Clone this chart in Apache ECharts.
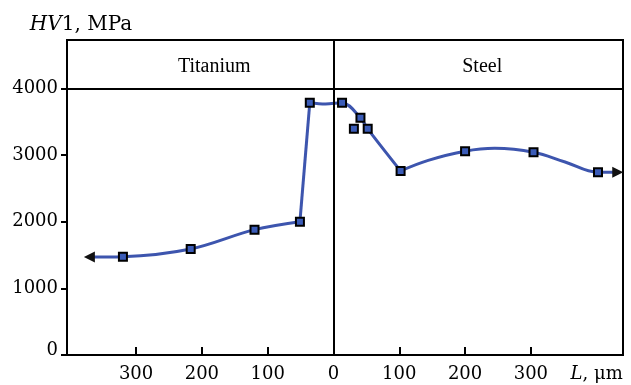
<!DOCTYPE html>
<html>
<head>
<meta charset="utf-8">
<script src="https://cdn.jsdelivr.net/npm/echarts@6/dist/echarts.min.js"></script>
<style>
html,body{margin:0;padding:0;background:#fff;}
#c{width:631px;height:385px;}
</style>
</head>
<body>
<div id="c"></div>
<script>
// ---- data ----
const xTickValues = [-300, -200, -100, 100, 200, 300];
const xLabelValues = [-300, -200, -100, 0, 100, 200, 300];
const yTickValues = [0, 1000, 2000, 3000, 4000];
const zones = ['Titanium', 'Steel'];

// measured points (L, µm: negative = titanium side, positive = steel side)
const pointL  = [-320, -217, -120, -51, -36, 13, 31, 41, 52, 102, 200, 304, 402];
const pointHV = [1475, 1590, 1880, 2000, 3785, 3785, 3392, 3557, 3392, 2761, 3057, 3042, 2742];

// fitted curve (pieces), ends carry the arrows
const curveTiL     = [-371, -320, -217, -120, -51];
const curveTiHV    = [1470, 1475, 1590, 1880, 2000];
const curveJumpL   = [-51, -36];
const curveJumpHV  = [2000, 3785];
const curveTopL    = [-36, -12, 13, 41, 52, 102];
const curveTopHV   = [3785, 3765, 3785, 3557, 3392, 2761];
const curveSteelL  = [102, 144, 200, 245, 304, 352, 402, 432];
const curveSteelHV = [2761, 2920, 3057, 3100, 3042, 2895, 2742, 2742];

const BLUE = '#3d55ae';
const zip = (xs, ys) => xs.map((x, i) => [x, ys[i]]);

const seriesLine = (data, smooth) => ({
  type: 'line',
  data: data,
  smooth: smooth,
  showAllSymbol: true,
  symbol: 'none',
  lineStyle: { color: BLUE, width: 3 },
  itemStyle: { color: '#111' },
  z: 3,
  silent: true
});

const withArrow = (data, idx, rot) => {
  const d = data.slice();
  d[idx] = { value: d[idx], symbol: 'triangle', symbolSize: 11, symbolRotate: rot, itemStyle: { color: '#111' } };
  return d;
};

const chart = echarts.init(document.getElementById('c'), null, { renderer: 'canvas' });
chart.setOption({
  animation: false,
  backgroundColor: '#fff',
  grid: { left: 67, right: 8, top: 40, bottom: 30, show: true, borderColor: '#000', borderWidth: 2, backgroundColor: 'transparent' },
  xAxis: {
    type: 'value', min: -405, max: 440,
    splitLine: { show: false },
    axisLine: { show: true, onZero: false, lineStyle: { color: '#000', width: 2 } },
    axisTick: { show: true, inside: true, length: 8, customValues: xTickValues, lineStyle: { color: '#000', width: 2 } },
    axisLabel: {
      customValues: xLabelValues.concat([400]),
      margin: 10,
      color: '#000', fontFamily: 'DejaVu Serif', fontSize: 18,
      formatter: v => v === 400 ? '{i|L}, μm' : String(Math.abs(v)),
      rich: { i: { fontStyle: 'italic', fontFamily: 'DejaVu Serif', fontSize: 18, color: '#000' } }
    }
  },
  yAxis: {
    type: 'value', min: 0, max: 4725,
    name: '{i|HV}1, MPa',
    nameLocation: 'end', nameGap: 5,
    nameTextStyle: {
      color: '#000', fontFamily: 'DejaVu Serif', fontSize: 20, padding: [0, 0, 0, 28],
      rich: { i: { fontStyle: 'italic', fontFamily: 'DejaVu Serif', fontSize: 20, color: '#000' } }
    },
    splitLine: { show: false },
    axisLine: { show: true, onZero: false, lineStyle: { color: '#000', width: 2 } },
    axisTick: { show: true, inside: false, length: 6, customValues: yTickValues, lineStyle: { color: '#000', width: 2 } },
    axisLabel: {
      customValues: yTickValues,
      margin: 9,
      color: '#000', fontFamily: 'DejaVu Serif', fontSize: 18,
      formatter: v => v === 0 ? '{z|0}' : String(v),
      rich: { z: { padding: [0, 0, 10, 0], fontFamily: 'DejaVu Serif', fontSize: 18, color: '#000' } }
    }
  },
  series: [
    seriesLine(withArrow(zip(curveTiL, curveTiHV), 0, 90), 0.35),
    seriesLine(zip(curveJumpL, curveJumpHV), false),
    seriesLine(zip(curveTopL, curveTopHV), 0.35),
    seriesLine(withArrow(zip(curveSteelL, curveSteelHV), curveSteelL.length - 1, -90), 0.4),
    {
      type: 'scatter',
      data: zip(pointL, pointHV),
      symbol: 'rect', symbolSize: 8,
      itemStyle: { color: '#3b5cb8', borderColor: '#000', borderWidth: 2, opacity: 1 },
      z: 5,
      silent: true,
      markLine: {
        silent: true, symbol: ['none', 'none'], label: { show: false },
        lineStyle: { color: '#000', type: 'solid', width: 2 },
        emphasis: { disabled: true },
        data: [{ yAxis: 4000 }, { xAxis: 0 }]
      },
      markArea: {
        silent: true,
        itemStyle: { color: 'rgba(0,0,0,0)' },
        label: { show: true, position: 'inside', color: '#000', fontFamily: 'Liberation Serif', fontSize: 20 },
        data: [
          [{ name: zones[0], xAxis: -405, yAxis: 4000, label: { offset: [14, 3] } }, { xAxis: 0, yAxis: 4725 }],
          [{ name: zones[1], xAxis: 0, yAxis: 4000, label: { offset: [4, 3] } }, { xAxis: 440, yAxis: 4725 }]
        ]
      }
    }
  ]
});
</script>
</body>
</html>
